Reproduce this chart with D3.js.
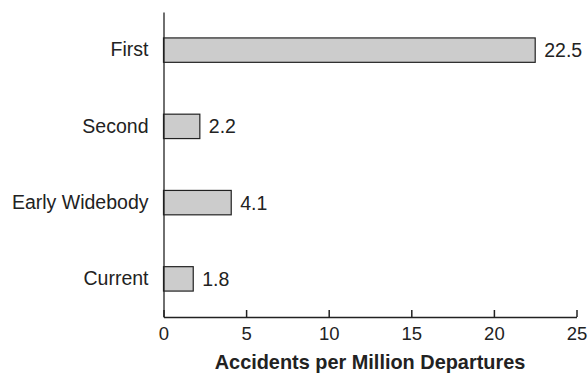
<!DOCTYPE html>
<html><head><meta charset="utf-8">
<script src="https://cdn.jsdelivr.net/npm/d3@7"></script>
<style>html,body{margin:0;padding:0;background:#fff;}svg{display:block;font-family:"Liberation Sans",Arial,sans-serif;}</style>
</head><body>
<svg id="chart" width="588" height="374"></svg>
<script>
const categories = ["First", "Second", "Early Widebody", "Current"];
const values = [22.5, 2.2, 4.1, 1.8];
const valueLabels = ["22.5", "2.2", "4.1", "1.8"];
const xTicks = [0, 5, 10, 15, 20, 25];
const xTitle = "Accidents per Million Departures";

const svg = d3.select("#chart");
const x = d3.scaleLinear().domain([0, 25]).range([163.5, 576.5]);
const y = d3.scaleBand().domain(categories).range([12, 317]).paddingInner(0.68).paddingOuter(0.34);

// bars
svg.append("g").selectAll("rect").data(categories).join("rect")
  .attr("x", x(0))
  .attr("y", d => y(d))
  .attr("width", (d, i) => x(values[i]) - x(0))
  .attr("height", y.bandwidth())
  .attr("fill", "#cccccc")
  .attr("stroke", "#222")
  .attr("stroke-width", 1.2);

// value labels
svg.append("g").selectAll("text").data(categories).join("text")
  .attr("x", (d, i) => x(values[i]) + 9)
  .attr("y", d => y(d) + y.bandwidth() / 2)
  .attr("dy", "0.36em")
  .attr("font-size", 19.5)
  .attr("fill", "#222")
  .text((d, i) => valueLabels[i]);

// y axis
const yAxis = svg.append("g").attr("transform", `translate(${x(0)},0)`)
  .call(d3.axisLeft(y).tickSize(0).tickPadding(15));
yAxis.select(".domain").attr("stroke", "#222").attr("stroke-width", 1.3);
yAxis.selectAll("text").attr("font-size", 19.5).attr("fill", "#222").attr("font-family", "Liberation Sans, Arial, sans-serif");

// x axis
const xAxis = svg.append("g").attr("transform", `translate(0,${317})`)
  .call(d3.axisBottom(x).tickValues(xTicks).tickSize(-7).tickSizeOuter(0).tickPadding(10).tickFormat(d3.format("d")));
xAxis.select(".domain").attr("stroke", "#222").attr("stroke-width", 1.3);
xAxis.selectAll(".tick line").attr("stroke", "#222").attr("stroke-width", 1.5);
xAxis.selectAll("text").attr("font-size", 18.5).attr("fill", "#222").attr("font-family", "Liberation Sans, Arial, sans-serif");

// x title
svg.append("text")
  .attr("x", (x(0) + x(25)) / 2)
  .attr("y", 369)
  .attr("text-anchor", "middle")
  .attr("font-size", 19.9)
  .attr("font-weight", "bold")
  .attr("fill", "#222")
  .text(xTitle);
</script>
</body></html>
